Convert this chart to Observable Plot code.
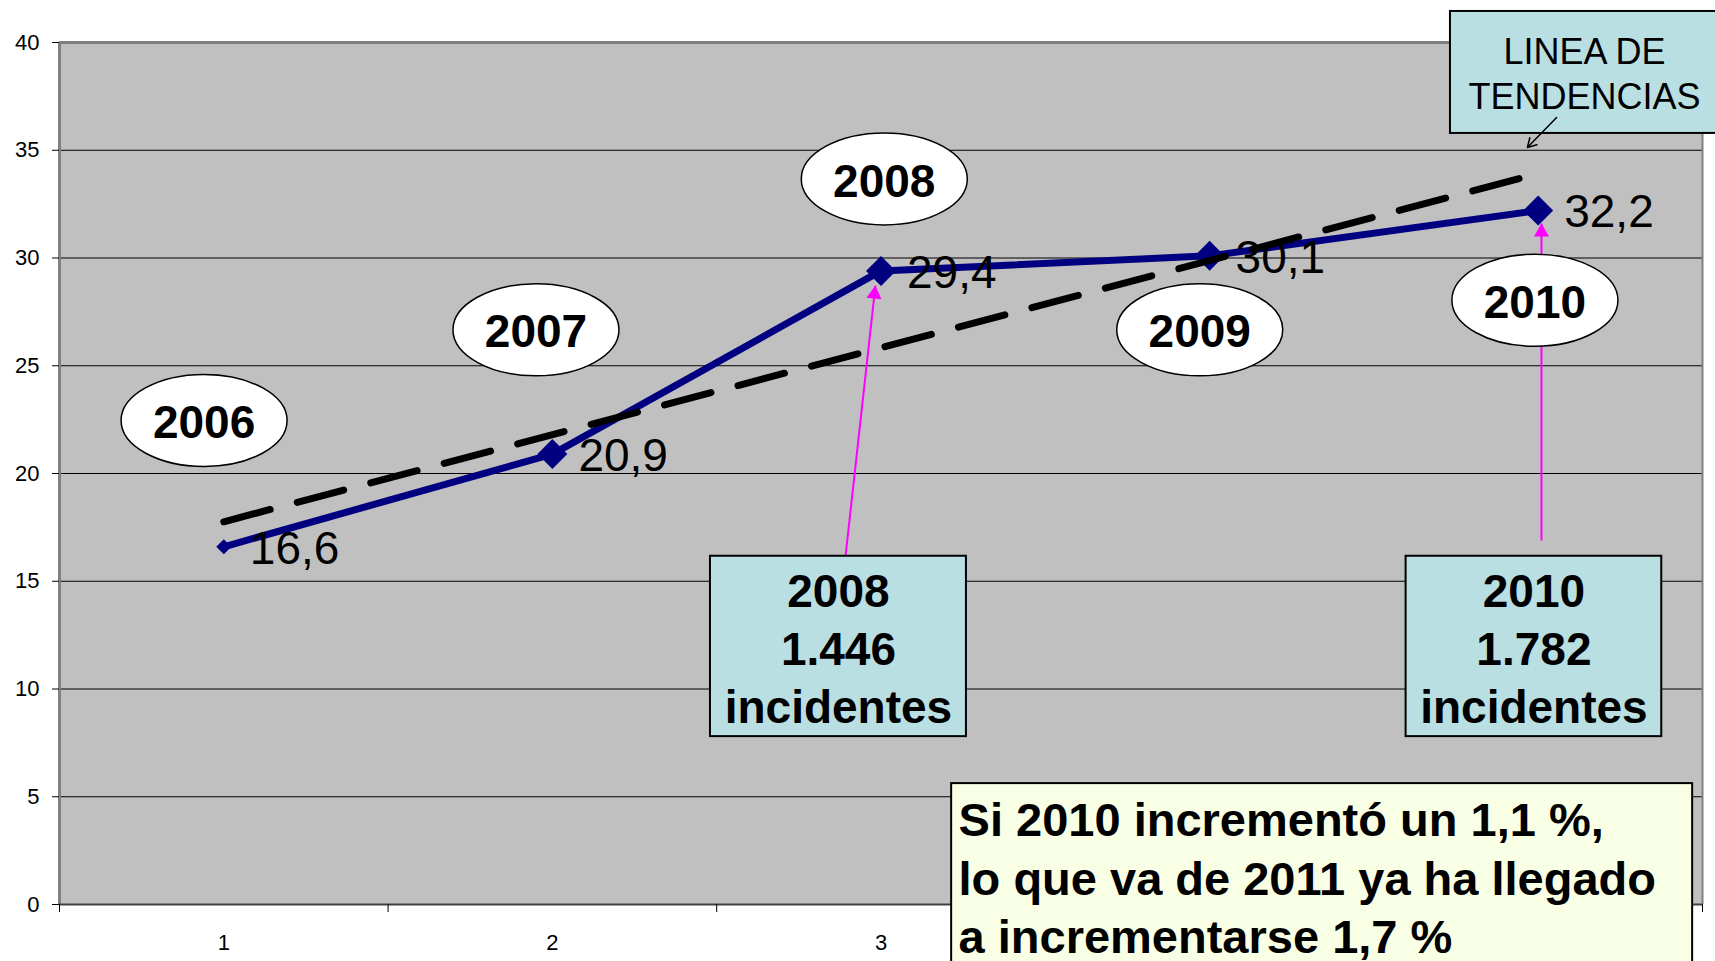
<!DOCTYPE html>
<html><head><meta charset="utf-8">
<script src="https://cdn.jsdelivr.net/npm/d3@7"></script>
<script src="https://cdn.jsdelivr.net/npm/@observablehq/plot@0.6"></script>
<style>html,body{margin:0;padding:0;background:#fff;} svg{display:block;}</style>
</head><body><div id="chart"></div>
<script>
// ---- data ----
const xIndex = [1, 2, 3, 4, 5];
const years = ["2006", "2007", "2008", "2009", "2010"];
const rates = [16.6, 20.9, 29.4, 30.1, 32.2];
const rateLabels = ["16,6", "20,9", "29,4", "30,1", "32,2"];
const yTicks = [0, 5, 10, 15, 20, 25, 30, 35, 40];
const gridValues = [5, 10, 15, 20, 25, 30, 35];
const xTickLabels = [1, 2, 3, 4, 5];
const xBoundaries = [0.5, 1.5, 2.5, 3.5, 4.5, 5.5];

// annotation anchors (data units)
const bubbleX = [0.94, 1.95, 3.01, 3.97, 4.99];
const bubbleY = [22.46, 26.67, 33.67, 26.67, 28.04];

const boxLabels = ["2008\n1.446\nincidentes", "2010\n1.782\nincidentes"];
const boxX1 = [2.481, 4.598];
const boxX2 = [3.260, 5.376];
const boxY1 = [7.79, 7.79];
const boxY2 = [16.16, 16.16];

const arrowX1 = [2.892, 5.010];
const arrowY1 = [16.15, 16.89];
const arrowX2 = [2.983, 5.010];
const arrowY2 = [28.72, 31.60];

const noteLines = ["Si 2010 incrementó un 1,1 %,", "lo que va de 2011 ya ha llegado", "a incrementarse 1,7 %"];
const trendLines = ["LINEA DE", "TENDENCIAS"];

// ---- tables ----
const points = xIndex.map((x, i) => ({x, y: rates[i], label: rateLabels[i]}));
const bubbles = years.map((t, i) => ({x: bubbleX[i], y: bubbleY[i], t}));
const boxes = boxLabels.map((t, i) => ({x1: boxX1[i], x2: boxX2[i], y1: boxY1[i], y2: boxY2[i], t}));
const arrows = arrowX1.map((x, i) => ({x1: x, y1: arrowY1[i], x2: arrowX2[i], y2: arrowY2[i]}));

const ellipse = {
  draw(ctx) {
    const a = 83, b = 46, k = 0.5523;
    ctx.moveTo(a, 0);
    ctx.bezierCurveTo(a, b * k, a * k, b, 0, b);
    ctx.bezierCurveTo(-a * k, b, -a, b * k, -a, 0);
    ctx.bezierCurveTo(-a, -b * k, -a * k, -b, 0, -b);
    ctx.bezierCurveTo(a * k, -b, a, -b * k, a, 0);
    ctx.closePath();
  }
};

const FONT = "'Liberation Sans', Arial, Helvetica, sans-serif";

const chart = Plot.plot({
  width: 1715,
  height: 961,
  marginLeft: 59,
  marginRight: 13,
  marginTop: 42,
  marginBottom: 57,
  style: {fontFamily: FONT, fontSize: "22px", background: "transparent", overflow: "visible", color: "black"},
  x: {type: "linear", domain: [0.5, 5.5]},
  y: {domain: [0, 40]},
  marks: [
    Plot.frame({fill: "#c0c0c0", stroke: "none"}),
    Plot.ruleY(gridValues, {stroke: "black", strokeWidth: 1}),
    Plot.ruleY([40], {stroke: "#808080", strokeWidth: 3}),
    Plot.ruleX([0.5], {stroke: "#808080", strokeWidth: 3}),
    Plot.ruleX([5.5], {stroke: "#808080", strokeWidth: 2}),
    Plot.ruleY([0], {stroke: "#404040", strokeWidth: 2}),
    Plot.axisY({ticks: yTicks, tickSize: 7, tickPadding: 13, fontSize: 22, label: null, tickFormat: d => String(d)}),
    Plot.axisX({ticks: xTickLabels, tickSize: 0, tickPadding: 30, fontSize: 22, label: null, tickFormat: d => String(d)}),
    Plot.axisX({ticks: xBoundaries, tickSize: 8, tickFormat: () => "", label: null}),
    // series
    Plot.line(points, {x: "x", y: "y", stroke: "#000080", strokeWidth: 7, strokeLinejoin: "miter"}),
    Plot.dot(points, {filter: (d, i) => i === 0, x: "x", y: "y", symbol: "diamond2", r: 6.8, fill: "#000080"}),
    Plot.dot(points, {filter: (d, i) => i > 0, x: "x", y: "y", symbol: "diamond2", r: 13.5, fill: "#000080"}),
    // trend line
    Plot.linearRegressionY(points, {x: "x", y: "y", ci: 0, stroke: "black", strokeWidth: 7, strokeDasharray: "48,28"}),
    Plot.text(points, {x: "x", y: "y", text: "label", dx: 26, dy: 2, textAnchor: "start", fontSize: 46, fill: "black"}),
    // magenta arrows
    Plot.link(arrows, {x1: "x1", y1: "y1", x2: "x2", y2: "y2", stroke: "#ff00ff", strokeWidth: 2}),
    Plot.dot(arrows.slice(0, 1), {x: "x2", y: "y2", symbol: "triangle", r: 5.6, fill: "#ff00ff", rotate: 6.3, dx: -1, dy: 8.6}),
    Plot.dot(arrows.slice(1, 2), {x: "x2", y: "y2", symbol: "triangle", r: 5.6, fill: "#ff00ff", dy: 8.7}),
    // year bubbles
    Plot.dot(bubbles, {x: "x", y: "y", symbol: ellipse, r: 10, fill: "white", stroke: "black", strokeWidth: 1.5}),
    Plot.text(bubbles, {x: "x", y: "y", text: "t", fontSize: 46, fontWeight: "bold", dy: 3, fill: "black"}),
    // incident boxes
    Plot.rect(boxes, {x1: "x1", x2: "x2", y1: "y1", y2: "y2", fill: "#b9dfe3", stroke: "black", strokeWidth: 2}),
    Plot.text(boxes, {x: d => (d.x1 + d.x2) / 2, y: d => (d.y1 + d.y2) / 2, text: "t", fontSize: 46, fontWeight: "bold", lineHeight: 1.26, dy: 0, fill: "black"}),
    // note box
    Plot.rect([{x1: 3.215, x2: 5.470, y1: -3, y2: 5.61}], {x1: "x1", x2: "x2", y1: "y1", y2: "y2", fill: "#f9ffe5", stroke: "black", strokeWidth: 2}),
    Plot.text([noteLines.join("\n")], {x: 3.236, y: 1.32, text: d => d, textAnchor: "start", fontSize: 47, fontWeight: "bold", lineHeight: 1.24, fill: "black"}),
    // trend label box
    Plot.rect([{x1: 4.733, x2: 5.56, y1: 35.78, y2: 41.44}], {x1: "x1", x2: "x2", y1: "y1", y2: "y2", fill: "#b9dfe3", stroke: "black", strokeWidth: 2}),
    Plot.text([trendLines.join("\n")], {x: 5.141, y: 38.62, text: d => d, fontSize: 36, lineHeight: 1.25, fill: "black"}),
    Plot.arrow([{x1: 5.056, y1: 36.52, x2: 4.967, y2: 35.13}], {x1: "x1", y1: "y1", x2: "x2", y2: "y2", stroke: "black", strokeWidth: 1.5, headLength: 10})
  ]
});
document.getElementById("chart").appendChild(chart);
</script>
</body></html>
